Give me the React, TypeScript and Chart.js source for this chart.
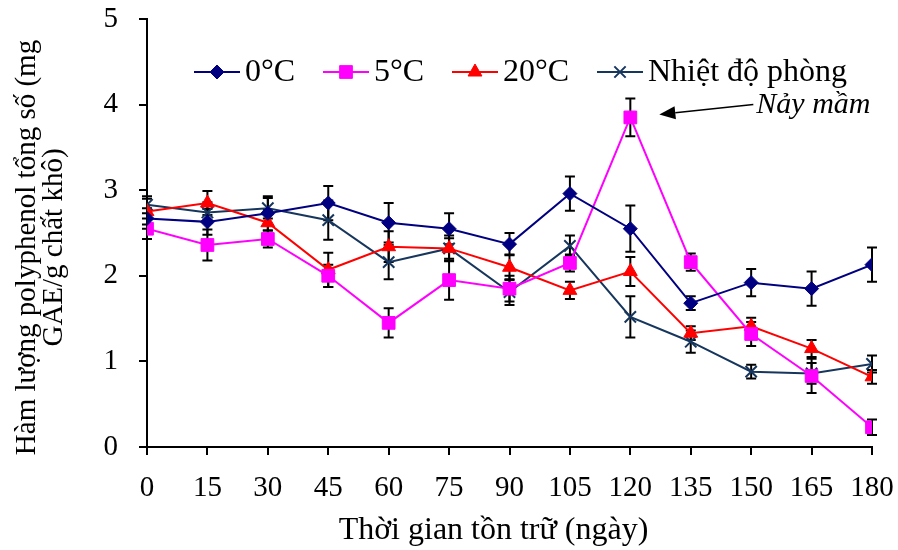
import React, { useEffect, useRef } from "react";
import { Chart, registerables } from "chart.js";
import { drawPoint } from "chart.js/helpers";

Chart.register(...registerables);

const days = [0, 15, 30, 45, 60, 75, 90, 105, 120, 135, 150, 165, 180];
const zeroC = [2.67, 2.63, 2.73, 2.85, 2.62, 2.55, 2.37, 2.96, 2.55, 1.68, 1.92, 1.85, 2.13];
const zeroCErr = [0.12, 0.15, 0.2, 0.2, 0.23, 0.18, 0.13, 0.2, 0.27, 0.08, 0.16, 0.2, 0.2];
const fiveC = [2.55, 2.36, 2.43, 2.0, 1.45, 1.95, 1.85, 2.15, 3.85, 2.16, 1.32, 0.83, 0.23];
const fiveCErr = [0.12, 0.18, 0.1, 0.13, 0.17, 0.23, 0.15, 0.1, 0.22, 0.1, 0.14, 0.2, 0.09];
const twentyC = [2.75, 2.85, 2.62, 2.07, 2.34, 2.32, 2.1, 1.83, 2.05, 1.33, 1.41, 1.15, 0.82];
const twentyCErr = [0.15, 0.14, 0.15, 0.2, 0.18, 0.12, 0.15, 0.1, 0.17, 0.08, 0.1, 0.1, 0.08];
const roomT = [2.83, 2.74, 2.79, 2.65, 2.16, 2.32, 1.81, 2.35, 1.52, 1.23, 0.88, 0.86, 0.97];
const roomTErr = [0.1, 0.12, 0.12, 0.23, 0.2, 0.15, 0.15, 0.12, 0.24, 0.13, 0.08, 0.12, 0.1];

const seriesLabels = ["0°C", "5°C", "20°C", "Nhiệt độ phòng"];
const xTitle = "Thời gian tồn trữ (ngày)    ";
const yTitle = ["Hàm lượng polyphenol tổng số (mg    ", "GAE/g chất khô)    "];
const annotationText = "Nảy mầm";

const FONT = "'Liberation Serif', 'Times New Roman', serif";

const styles = [
  { color: "#000080", pointStyle: "rectRot", radius: 7, pbw: 1 },
  { color: "#FF00FF", pointStyle: "rect", radius: 9, pbw: 1 },
  { color: "#FF0000", pointStyle: "triangle", radius: 8, pbw: 1 },
  { color: "#17365D", pointStyle: "crossRot", radius: 8, pbw: 2 },
];

const errors = [zeroCErr, fiveCErr, twentyCErr, roomTErr];

const errorBarPlugin = {
  id: "errorBars",
  beforeDatasetsDraw(chart: any) {
    const ctx = chart.ctx;
    const yScale = chart.scales.y;
    ctx.save();
    ctx.strokeStyle = "#000";
    ctx.lineWidth = 2;
    chart.data.datasets.forEach((ds: any, di: number) => {
      const meta = chart.getDatasetMeta(di);
      meta.data.forEach((pt: any, i: number) => {
        const v = ds.data[i].y;
        const e = errors[di][i];
        const yTop = yScale.getPixelForValue(v + e);
        const yBot = yScale.getPixelForValue(v - e);
        const x = pt.x;
        ctx.beginPath();
        ctx.moveTo(x, yTop);
        ctx.lineTo(x, yBot);
        ctx.moveTo(x - 5, yTop);
        ctx.lineTo(x + 5, yTop);
        ctx.moveTo(x - 5, yBot);
        ctx.lineTo(x + 5, yBot);
        ctx.stroke();
      });
    });
    ctx.restore();
  },
};

const legendPlugin = {
  id: "customLegend",
  afterDraw(chart: any) {
    const ctx = chart.ctx;
    const area = chart.chartArea;
    const y = area.top + 53;
    const starts = [194, 323, 452, 597];
    ctx.save();
    ctx.font = `32px ${FONT}`;
    ctx.textBaseline = "middle";
    ctx.textAlign = "left";
    seriesLabels.forEach((lab, i) => {
      const s = styles[i];
      const x0 = starts[i];
      ctx.strokeStyle = s.color;
      ctx.fillStyle = s.color;
      ctx.lineWidth = 2;
      ctx.beginPath();
      ctx.moveTo(x0, y);
      ctx.lineTo(x0 + 46, y);
      ctx.stroke();
      ctx.lineWidth = s.pbw;
      drawPoint(ctx, { pointStyle: s.pointStyle, radius: s.radius, rotation: 0, borderWidth: s.pbw }, x0 + 23, y);
      ctx.fillStyle = "#000";
      ctx.fillText(lab, x0 + 51, y + 1);
    });
    ctx.restore();
  },
};

const annotationPlugin = {
  id: "annotation",
  afterDraw(chart: any) {
    const ctx = chart.ctx;
    const xs = chart.scales.x;
    const ys = chart.scales.y;
    const idx = fiveC.indexOf(Math.max(...fiveC));
    const px = xs.getPixelForValue(days[idx]);
    const py = ys.getPixelForValue(fiveC[idx]);
    const tipX = px + 29;
    const tipY = py - 3;
    const endX = px + 123;
    const endY = py - 13;
    ctx.save();
    ctx.strokeStyle = "#000";
    ctx.fillStyle = "#000";
    ctx.lineWidth = 1.5;
    const ang = Math.atan2(tipY - endY, tipX - endX);
    const hl = 16;
    const hw = 6.5;
    const bx = tipX - hl * Math.cos(ang);
    const by = tipY - hl * Math.sin(ang);
    ctx.beginPath();
    ctx.moveTo(endX, endY);
    ctx.lineTo(bx, by);
    ctx.stroke();
    ctx.beginPath();
    ctx.moveTo(tipX, tipY);
    ctx.lineTo(bx + hw * Math.sin(ang), by - hw * Math.cos(ang));
    ctx.lineTo(bx - hw * Math.sin(ang), by + hw * Math.cos(ang));
    ctx.closePath();
    ctx.fill();
    ctx.font = `italic 30px ${FONT}`;
    ctx.textAlign = "left";
    ctx.textBaseline = "middle";
    ctx.fillText(annotationText, endX + 3, endY + 1);
    ctx.restore();
  },
};

export default function App() {
  const canvasRef = useRef<HTMLCanvasElement | null>(null);

  useEffect(() => {
    if (!canvasRef.current) return;
    const seriesData = [zeroC, fiveC, twentyC, roomT];
    const chart = new Chart(canvasRef.current, {
      type: "line",
      data: {
        datasets: seriesData.map((vals, i) => ({
          label: seriesLabels[i],
          data: days.map((d, j) => ({ x: d, y: vals[j] })),
          borderColor: styles[i].color,
          backgroundColor: styles[i].color,
          pointBackgroundColor: styles[i].color,
          pointBorderColor: styles[i].color,
          pointStyle: styles[i].pointStyle as any,
          pointRadius: styles[i].radius,
          pointBorderWidth: styles[i].pbw,
          borderWidth: 2,
          tension: 0,
          fill: false,
        })),
      },
      options: {
        animation: false,
        responsive: false,
        maintainAspectRatio: false,
        layout: { padding: { top: 19, right: 26, left: 0, bottom: 0 } },
        plugins: {
          legend: { display: false },
          tooltip: { enabled: false },
        },
        scales: {
          x: {
            type: "linear",
            min: 0,
            max: 180,
            afterFit: (s: any) => {
              s.height = 103;
              s.paddingLeft = 0;
              s.paddingRight = 0;
            },
            afterBuildTicks: (s: any) => {
              s.ticks = days.map((d) => ({ value: d }));
            },
            ticks: {
              color: "#000",
              font: { family: FONT, size: 29 },
              padding: 16,
              maxRotation: 0,
              autoSkip: false,
            },
            grid: {
              display: true,
              drawOnChartArea: false,
              drawTicks: true,
              tickLength: 8,
              color: "#000",
              lineWidth: 2,
            },
            border: { display: true, color: "#000", width: 2 },
            title: {
              display: true,
              text: xTitle,
              color: "#000",
              font: { family: FONT, size: 32 },
              padding: { top: 0, bottom: 0 },
            },
          },
          y: {
            type: "linear",
            min: 0,
            max: 5,
            afterFit: (s: any) => {
              s.width = 147;
              s.paddingTop = 0;
              s.paddingBottom = 0;
            },
            ticks: {
              stepSize: 1,
              color: "#000",
              font: { family: FONT, size: 29 },
              padding: 21,
            },
            grid: {
              display: true,
              drawOnChartArea: false,
              drawTicks: true,
              tickLength: 8,
              color: "#000",
              lineWidth: 2,
            },
            border: { display: true, color: "#000", width: 2 },
            title: {
              display: true,
              text: yTitle,
              color: "#000",
              font: { family: FONT, size: 29, lineHeight: "27px" },
              padding: { top: 14, bottom: 0 },
            },
          },
        },
      },
      plugins: [errorBarPlugin, legendPlugin, annotationPlugin],
    });
    return () => chart.destroy();
  }, []);

  return (
    <div style={{ position: "fixed", left: 0, top: 0, width: 898, height: 550, background: "#fff" }}>
      <canvas ref={canvasRef} width={898} height={550} style={{ display: "block" }} />
    </div>
  );
}
